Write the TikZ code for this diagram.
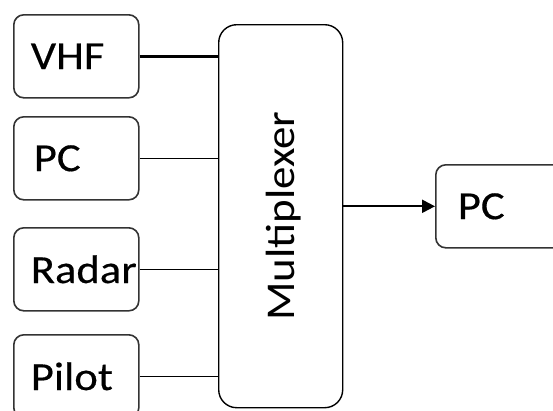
\documentclass[tikz,border=0pt]{standalone}
\usepackage{fontspec}
\setmainfont[FakeStretch=1.12,FakeBold=0.4]{Carlito}
\newfontfamily\muxfont[FakeStretch=1.1]{Carlito}
\usetikzlibrary{arrows.meta}
\begin{document}
\begin{tikzpicture}[x=1bp,y=-1bp,
  srcbox/.style={draw=black!80,line width=1.6bp,rounded corners=10bp,minimum width=125bp,minimum height=83bp,
    text width=91bp,inner xsep=17bp,align=left,font=\fontsize{40}{48}\selectfont,anchor=north west},
  muxbox/.style={draw=black,line width=1.4bp,rounded corners=18bp,minimum width=124bp,minimum height=383bp,anchor=north west,inner sep=0pt},
  link/.style={draw=black,line width=1.3bp},
  biglink/.style={draw=black,line width=2.6bp}]
\useasboundingbox (0,0) rectangle (553,410);
\node[srcbox] (vhf) at (13,14) {VHF};
\node[srcbox] (pc1) at (13,116) {\hspace*{3bp}PC};
\node[srcbox] (radar) at (13,227) {Radar};
\node[srcbox] (pilot) at (13,334) {Pilot};
\node[muxbox] (mux) at (218,24) {};
\node[rotate=90,font=\muxfont\fontsize{41}{49}\selectfont] (muxlabel) at ([xshift=3bp]mux.center) {Multiplexer};
\node[srcbox,inner xsep=22bp] (pc2) at (435,164) {PC};
\draw[biglink] (vhf.east) -- (vhf.east -| mux.west);
\draw[link] (pc1.east) -- (pc1.east -| mux.west);
\draw[link] (radar.east) -- (radar.east -| mux.west);
\draw[link] (pilot.east) -- (pilot.east -| mux.west);
\draw[line width=2.2bp,-{Triangle[length=13bp,width=13bp]}] (mux.east |- pc2.west) -- (pc2.west);
\end{tikzpicture}
\end{document}
